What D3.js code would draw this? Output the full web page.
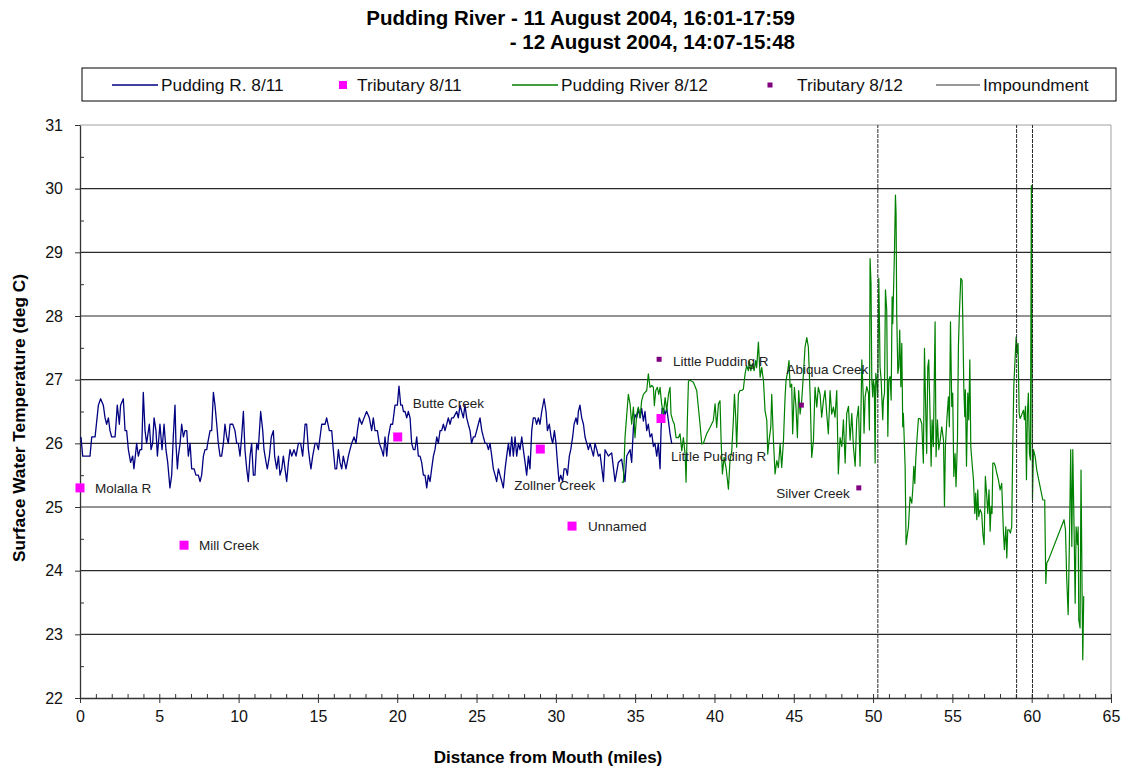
<!DOCTYPE html>
<html>
<head>
<meta charset="utf-8">
<script src="https://cdn.jsdelivr.net/npm/d3@7"></script>
<style>
  html, body { margin: 0; padding: 0; background: #fff; }
  svg { display: block; font-family: "Liberation Sans", Arial, sans-serif; }
</style>
</head>
<body>
<svg id="chart" width="1127" height="769"></svg>
<script>
// ---------------- DATA ----------------
const titleLines = ["Pudding River - 11 August 2004, 16:01-17:59", "- 12 August 2004, 14:07-15:48"];
const xTicks = [0, 5, 10, 15, 20, 25, 30, 35, 40, 45, 50, 55, 60, 65];
const yTicks = [22, 23, 24, 25, 26, 27, 28, 29, 30, 31];
const legendLabels = ["Pudding R. 8/11", "Tributary 8/11", "Pudding River 8/12", "Tributary 8/12", "Impoundment"];

// Pudding R. 8/11 : [mile, temp]
const puddingR0811 = [
[0.06,26.1],[0.17,25.8],[0.63,25.8],[0.74,26.1],[0.95,26.1],[1.16,26.6],[1.30,26.7],[1.47,26.6],[1.58,26.4],[1.68,26.3],[1.79,26.4],[1.89,26.2],[2.00,26.1],[2.21,26.1],[2.27,26.3],[2.35,26.6],[2.48,26.3],[2.56,26.6],[2.73,26.7],[2.84,26.2],[2.94,26.2],[3.05,25.9],[3.19,25.7],[3.32,25.8],[3.40,25.6],[3.53,25.9],[3.57,26.0],[3.68,25.8],[3.78,25.9],[3.89,25.9],[3.99,26.8],[4.10,26.2],[4.20,26.0],[4.37,26.3],[4.48,25.9],[4.58,26.0],[4.67,26.4],[4.79,26.2],[4.88,25.8],[5.04,26.3],[5.17,25.9],[5.30,26.3],[5.42,25.9],[5.53,25.7],[5.67,25.3],[5.78,25.5],[5.88,26.1],[5.99,26.6],[6.05,26.0],[6.14,25.6],[6.20,25.8],[6.31,26.0],[6.41,26.3],[6.52,26.1],[6.62,26.2],[6.73,26.2],[6.83,25.8],[6.94,26.0],[7.04,25.6],[7.19,25.6],[7.31,25.5],[7.46,25.5],[7.57,25.4],[7.67,25.5],[7.78,25.8],[7.88,25.9],[7.99,25.9],[8.05,26.0],[8.20,26.2],[8.30,26.2],[8.41,26.8],[8.51,26.6],[8.62,26.3],[8.72,26.0],[8.83,25.8],[8.93,25.8],[9.04,26.0],[9.14,26.3],[9.25,26.1],[9.35,26.0],[9.46,26.3],[9.63,26.3],[9.77,26.2],[9.88,26.0],[9.98,26.0],[10.09,25.8],[10.19,26.1],[10.30,26.5],[10.40,25.9],[10.51,25.6],[10.61,25.4],[10.72,25.8],[10.82,26.0],[10.93,25.5],[11.03,25.5],[11.14,26.0],[11.24,25.9],[11.39,26.5],[11.52,26.2],[11.60,25.9],[11.73,25.7],[11.81,25.6],[11.94,25.8],[12.06,26.1],[12.19,26.2],[12.27,25.8],[12.40,25.6],[12.51,25.8],[12.61,25.5],[12.72,25.6],[12.82,25.8],[13.03,25.4],[13.14,25.7],[13.24,25.9],[13.35,25.8],[13.49,25.9],[13.62,25.8],[13.77,26.0],[13.91,26.0],[14.04,25.8],[14.19,26.3],[14.29,26.3],[14.40,25.9],[14.50,25.7],[14.56,25.6],[14.67,25.8],[14.82,26.0],[14.92,26.0],[15.03,25.9],[15.24,26.3],[15.45,26.3],[15.55,26.4],[15.72,26.2],[15.87,26.2],[15.97,25.9],[16.08,25.6],[16.18,25.6],[16.29,25.9],[16.39,25.7],[16.50,25.6],[16.60,25.8],[16.77,25.6],[16.92,25.8],[17.02,25.9],[17.13,26.0],[17.28,26.1],[17.40,26.0],[17.49,26.2],[17.61,26.4],[17.76,26.3],[17.91,26.4],[18.07,26.5],[18.24,26.4],
[18.39,26.2],[18.49,26.4],[18.60,26.2],[18.75,26.2],[18.87,26.0],[19.02,25.9],[19.13,25.8],[19.23,26.1],[19.34,25.8],[19.44,26.1],[19.59,26.3],[19.71,26.3],[19.86,26.6],[20.01,26.6],[20.11,26.9],[20.22,26.6],[20.32,26.6],[20.39,26.5],[20.49,26.5],[20.60,26.4],[20.70,26.5],[20.81,26.4],[20.91,26.0],[21.02,25.9],[21.12,25.9],[21.23,26.1],[21.33,25.8],[21.44,25.8],[21.54,25.7],[21.65,25.5],[21.75,25.5],[21.86,25.3],[21.96,25.5],[22.07,25.4],[22.17,25.6],[22.28,25.8],[22.38,25.9],[22.49,26.1],[22.59,26.0],[22.70,26.2],[22.80,26.2],[22.91,26.3],[23.01,26.2],[23.12,26.3],[23.22,26.4],[23.33,26.3],[23.43,26.4],[23.54,26.4],[23.75,26.5],[23.85,26.4],[23.96,26.6],[24.06,26.5],[24.17,26.4],[24.27,26.6],[24.38,26.4],[24.48,26.3],[24.59,26.2],[24.69,26.0],[24.80,26.1],[24.90,26.1],[25.01,26.2],[25.11,26.3],[25.22,26.4],[25.33,26.2],[25.43,26.1],[25.54,26.0],[25.64,26.0],[25.75,25.9],[25.85,26.0],[25.96,25.8],[26.06,25.6],[26.17,25.5],[26.27,25.4],[26.38,25.6],[26.48,25.5],[26.59,25.4],[26.69,25.3],[26.80,25.6],[26.90,25.8],[27.01,26.0],[27.11,25.8],[27.22,26.1],[27.32,25.8],[27.43,26.1],[27.53,25.8],[27.64,26.0],[27.74,25.9],[27.85,26.1],[27.95,25.9],[28.06,25.7],[28.16,25.5],[28.27,25.8],[28.37,25.6],[28.48,26.2],[28.58,26.4],[28.69,26.4],[28.79,26.3],[28.90,26.4],[29.00,26.3],[29.11,26.5],[29.26,26.7],[29.38,26.5],[29.47,26.2],[29.59,26.3],[29.70,26.1],[29.80,26.0],[29.91,26.2],[30.01,26.0],[30.10,25.7],[30.20,25.4],[30.31,25.5],[30.43,25.4],[30.52,25.6],[30.64,25.6],[30.73,25.5],[30.85,25.8],[30.94,25.9],[31.06,26.1],[31.15,26.3],[31.27,26.4],[31.36,26.3],[31.42,26.5],[31.52,26.6],[31.63,26.4],[31.74,26.3],[31.84,26.1],[31.95,26.0],[32.05,25.9],[32.16,26.0],[32.26,25.9],[32.37,25.8],[32.47,26.0],[32.58,25.9],[32.68,25.8],
[32.79,25.83],[33.00,25.4],[33.10,25.9],[33.31,25.8],[33.52,25.85],[33.73,25.4],[33.94,25.7],[34.15,25.75],[34.36,25.4],[34.47,25.8],[34.68,25.9],[34.78,25.7],[34.89,26.25],[34.99,26.45],[35.10,26.4],[35.20,26.55],[35.31,26.4],[35.41,26.55],[35.52,26.35],[35.62,26.5],[35.73,26.2],[35.83,26.3],[35.94,26.1],[36.05,26.15],[36.15,25.95],[36.25,26.0],[36.36,25.8],[36.46,26.0],[36.57,25.6],[36.63,26.2],[36.70,26.55],[36.78,26.55],[36.89,26.45],[36.99,26.55],[37.10,26.35],[37.20,26.15],[37.31,25.99]
];

// Pudding River 8/12 : [mile, temp]
const puddingRiver0812 = [
[34.15,25.39],[34.26,25.39],[34.36,26.09],[34.57,26.77],[34.68,26.62],[34.78,26.30],[34.89,26.57],[34.99,26.09],[35.10,26.46],[35.20,26.57],[35.31,26.41],[35.41,26.67],[35.52,26.77],[35.73,26.83],[35.83,27.09],[35.94,26.88],[36.05,26.91],[36.15,26.88],[36.21,26.59],[36.30,26.83],[36.40,26.88],[36.49,26.77],[36.57,26.88],[36.67,26.62],[36.78,26.46],[36.89,26.72],[36.99,26.51],[37.10,26.77],[37.20,26.88],[37.26,26.46],[37.37,26.36],[37.47,26.30],[37.58,26.09],[37.73,26.09],[37.83,26.15],[37.94,25.88],[38.04,26.09],[38.15,25.83],[38.21,25.39],[38.29,26.36],[38.36,26.98],[38.46,26.99],[38.67,26.96],[38.88,26.83],[39.09,26.30],[39.20,25.99],[39.30,26.00],[39.51,26.15],[39.72,26.25],[39.93,26.36],[40.04,26.62],[40.14,26.25],[40.25,26.62],[40.35,26.67],[40.42,26.04],[40.50,25.52],[40.61,25.78],[40.73,25.62],[40.88,25.28],[40.98,25.73],[41.09,25.88],[41.19,26.36],[41.26,26.77],[41.34,26.41],[41.40,25.94],[41.51,26.77],[41.61,26.83],[41.72,26.83],[41.82,26.85],[41.93,27.09],[42.03,27.22],[42.14,27.14],[42.20,27.30],[42.29,27.14],[42.39,27.25],[42.50,27.14],[42.60,27.30],[42.66,27.19],[42.77,27.59],[42.88,27.04],[42.98,27.19],[43.09,26.98],[43.19,26.51],[43.30,26.36],[43.36,25.83],[43.44,26.04],[43.55,26.25],[43.61,26.77],[43.72,26.04],[43.82,25.52],[43.93,25.73],[44.03,25.62],[44.14,25.99],[44.24,25.62],[44.35,26.04],[44.45,26.72],[44.51,26.98],[44.62,27.14],[44.70,27.30],[44.77,26.88],[44.87,26.93],[44.93,26.15],[45.04,26.88],[45.14,26.57],[45.23,26.09],[45.31,26.83],[45.40,26.46],[45.50,26.67],[45.61,27.09],[45.71,27.51],[45.82,27.66],[45.92,27.51],[46.03,26.77],[46.13,25.78],[46.24,26.04],[46.34,26.88],[46.45,26.57],[46.55,26.88],[46.66,26.77],[46.76,26.41],[46.87,26.67],[46.97,26.83],[47.08,26.46],[47.18,26.15],[47.29,26.83],[47.39,26.46],[47.50,26.57],[47.60,26.41],[47.71,26.83],[47.81,25.52],[47.92,26.09],
[48.03,25.95],[48.13,26.37],[48.24,25.69],[48.34,26.47],[48.45,26.58],[48.55,26.05],[48.66,26.47],[48.76,25.95],[48.87,25.64],[48.97,26.37],[49.08,26.58],[49.18,25.64],[49.29,27.31],[49.39,26.68],[49.43,26.16],[49.50,26.73],[49.60,26.89],[49.71,26.79],[49.77,26.21],[49.81,28.90],[49.87,28.51],[49.92,26.99],[49.98,26.73],[50.02,26.99],[50.08,26.89],[50.13,25.69],[50.17,27.10],[50.23,26.99],[50.29,26.73],[50.36,28.59],[50.40,27.94],[50.44,27.20],[50.51,26.99],[50.55,26.73],[50.61,26.37],[50.65,26.68],[50.72,26.79],[50.78,28.41],[50.86,28.09],[50.93,26.11],[50.99,26.99],[51.07,27.05],[51.14,26.68],[51.20,28.30],[51.24,27.88],[51.28,28.30],[51.35,29.03],[51.41,29.90],[51.45,29.61],[51.49,28.04],[51.56,27.10],[51.62,27.20],[51.68,27.78],[51.75,26.89],[51.81,27.57],[51.87,26.26],[51.91,26.47],[52.02,25.64],[52.08,24.41],[52.23,24.69],[52.33,25.16],[52.44,25.06],[52.50,25.27],[52.57,25.64],[52.63,25.37],[52.69,25.74],[52.75,26.00],[52.86,26.39],[52.96,26.39],[53.07,26.31],[53.17,25.69],[53.24,27.49],[53.30,26.73],[53.38,25.84],[53.45,27.20],[53.51,27.31],[53.59,26.47],[53.66,25.64],[53.72,26.37],[53.80,25.95],[53.91,27.91],[53.97,25.79],[54.06,26.37],[54.14,25.90],[54.23,26.05],[54.33,26.26],[54.44,26.05],[54.50,25.01],[54.56,25.95],[54.65,26.37],[54.75,26.73],[54.81,26.26],[54.88,27.91],[54.96,26.58],[55.02,26.79],[55.09,25.48],[55.17,25.84],[55.23,25.32],[55.32,26.05],[55.38,27.52],[55.44,28.04],[55.53,28.59],[55.61,28.56],[55.65,28.04],[55.72,26.89],[55.78,26.42],[55.82,26.84],[55.89,25.64],[55.97,26.79],[56.03,26.37],[56.10,27.31],[56.16,25.95],[56.24,25.69],[56.33,25.43],[56.41,24.90],[56.47,25.22],[56.54,24.80],[56.60,25.27],[56.66,24.85],[56.75,24.96],[56.85,24.90],[56.92,24.59],[57.00,24.41],[57.08,25.48],[57.17,25.16],[57.23,24.90],[57.31,25.27],[57.38,24.62],[57.44,25.01],[57.50,24.90],[57.55,25.69],[57.63,25.69],[57.71,25.64],[57.80,25.53],[57.90,25.43],[58.01,25.27],[58.11,25.37],[58.22,24.59],[58.28,24.33],[58.37,24.69],[58.43,24.20],[58.49,24.64],[58.58,24.64],[58.66,24.59],[58.74,24.69],[58.81,26.00],[58.87,26.89],[58.95,27.31],[59.02,27.67],[59.08,27.41],[59.14,27.57],[59.21,26.47],[59.27,26.39],[59.33,26.42],[59.40,26.47],[59.48,26.52],[59.54,26.37],[59.61,26.58],[59.67,25.43],[59.73,26.47],[59.79,26.79],[59.86,25.84],[59.92,25.74],[59.98,30.05],[60.05,25.11],[60.11,25.90],[60.22,25.79],[60.32,25.58],[60.53,25.32],[60.70,25.11],[60.82,25.11],[60.89,23.80],[60.95,24.12],[61.06,24.17],[62.04,24.80],[62.13,24.64],[62.21,23.86],[62.30,23.31],[62.38,24.49],[62.46,25.90],[62.53,24.38],[62.59,25.90],[62.67,24.69],[62.74,23.49],[62.80,24.69],[62.88,24.41],[62.93,24.69],[62.97,23.23],[63.05,23.10],[63.11,25.58],[63.18,23.60],[63.22,22.60],[63.28,23.60]
];

// Tributaries
const trib0811Names = ["Molalla R", "Mill Creek", "Butte Creek", "Zollner Creek", "Unnamed", "Little Pudding R"];
const trib0811Miles = [0.0, 6.56, 20.03, 29.02, 31.02, 36.63];
const trib0811Temps = [25.3, 24.4, 26.1, 25.91, 24.7, 26.39];

const trib0812Names = ["Little Pudding R", "Abiqua Creek", "Silver Creek"];
const trib0812Miles = [36.51, 45.48, 49.10];
const trib0812Temps = [27.32, 26.6, 25.3];

const impoundmentMiles = [50.3, 59.05, 60.05];

// ---------------- LAYOUT / STYLE ----------------
const plot = { left: 80, right: 1111, top: 125, bottom: 698 };
const FONT = '"Liberation Sans", Arial, sans-serif';
const colors = { blue: "#000080", green: "#008000", magenta: "#ff00ff", purple: "#800080", imp: "#2a2a2a" };

// label offsets (pixels) for the tributary annotations
const label0811Offsets = [[15, 5, "start"], [15, 5, "start"], [15, -29, "start"], [-26, 41, "start"], [16, 5, "start"], [10, 42, "start"]];
const label0812Offsets = [[14, 7, "start"], [-15, -31, "start"], [-9, 10, "end"]];

const svg = d3.select("#chart");
const x = d3.scaleLinear().domain([0, 65]).range([plot.left, plot.right]);
const y = d3.scaleLinear().domain([22, 31]).range([plot.bottom, plot.top]);

// Title
svg.append("g").selectAll("text").data(titleLines).join("text")
  .attr("x", 795).attr("y", (d, i) => 25 + i * 24)
  .attr("text-anchor", "end")
  .attr("font-family", FONT).attr("font-weight", "bold").attr("font-size", 20.5)
  .attr("fill", "#000").text(d => d);

// Plot frame (top & right light)
svg.append("line").attr("x1", plot.left).attr("x2", plot.right).attr("y1", plot.top).attr("y2", plot.top)
  .attr("stroke", "#a0a0a0").attr("stroke-width", 1);
svg.append("line").attr("x1", plot.right).attr("x2", plot.right).attr("y1", plot.top).attr("y2", plot.bottom)
  .attr("stroke", "#a0a0a0").attr("stroke-width", 1);

// Horizontal grid lines
svg.append("g").selectAll("line").data(yTicks.filter(v => v > 22 && v < 31)).join("line")
  .attr("x1", plot.left).attr("x2", plot.right)
  .attr("y1", d => y(d)).attr("y2", d => y(d))
  .attr("stroke", "#2a2a2a").attr("stroke-width", 1.1);

// Y axis
const yMinor = d3.range(22.5, 31, 1);
const yAxisG = svg.append("g").attr("transform", `translate(${plot.left},0)`)
  .call(d3.axisLeft(y).tickValues(yTicks).tickSize(5).tickSizeOuter(0).tickPadding(12).tickFormat(d3.format("d")));
svg.append("g").attr("transform", `translate(${plot.left},0)`)
  .call(d3.axisRight(y).tickValues(yMinor).tickSize(4).tickSizeOuter(0).tickFormat(""))
  .call(g => g.select(".domain").remove());
yAxisG.selectAll("text").attr("font-family", FONT).attr("font-size", 16).attr("fill", "#111");

// X axis
const xMinor = d3.range(0, 66, 1);
svg.append("g").attr("transform", `translate(0,${plot.bottom})`)
  .call(d3.axisTop(x).tickValues(xMinor).tickSize(4).tickSizeOuter(0).tickFormat(""))
  .call(g => g.select(".domain").remove());
const xAxisG = svg.append("g").attr("transform", `translate(0,${plot.bottom})`)
  .call(d3.axisBottom(x).tickValues(xTicks).tickSize(5).tickSizeOuter(0).tickPadding(8).tickFormat(d3.format("d")));
xAxisG.selectAll("text").attr("font-family", FONT).attr("font-size", 16).attr("fill", "#111");

svg.selectAll(".domain").attr("stroke", "#333").attr("stroke-width", 1.3);
svg.selectAll(".tick line").attr("stroke", "#333").attr("stroke-width", 1);

// Axis titles
svg.append("text").attr("x", 548).attr("y", 763).attr("text-anchor", "middle")
  .attr("font-family", FONT).attr("font-weight", "bold").attr("font-size", 17).attr("fill", "#000")
  .text("Distance from Mouth (miles)");
svg.append("text").attr("transform", "translate(25,418) rotate(-90)").attr("text-anchor", "middle")
  .attr("font-family", FONT).attr("font-weight", "bold").attr("font-size", 17.3).attr("fill", "#000")
  .text("Surface Water Temperature (deg C)");

// Series lines
const line = d3.line().x(d => x(d[0])).y(d => y(d[1]));
svg.append("path").datum(puddingR0811).attr("d", line)
  .attr("fill", "none").attr("stroke", colors.blue).attr("stroke-width", 1.3).attr("stroke-linejoin", "round");

// Tributary 8/11 markers
const trib0811 = trib0811Names.map((n, i) => ({ name: n, mile: trib0811Miles[i], temp: trib0811Temps[i], off: label0811Offsets[i] }));
svg.append("g").selectAll("rect").data(trib0811).join("rect")
  .attr("x", d => x(d.mile) - 4.5).attr("y", d => y(d.temp) - 4.5)
  .attr("width", 9).attr("height", 9).attr("fill", colors.magenta);

svg.append("path").datum(puddingRiver0812).attr("d", line)
  .attr("fill", "none").attr("stroke", colors.green).attr("stroke-width", 1.2).attr("stroke-linejoin", "round");

const trib0812 = trib0812Names.map((n, i) => ({ name: n, mile: trib0812Miles[i], temp: trib0812Temps[i], off: label0812Offsets[i] }));
svg.append("g").selectAll("rect").data(trib0812).join("rect")
  .attr("x", d => x(d.mile) - 2.5).attr("y", d => y(d.temp) - 2.5)
  .attr("width", 5).attr("height", 5).attr("fill", colors.purple);

// Impoundment lines
svg.append("g").selectAll("line").data(impoundmentMiles).join("line")
  .attr("x1", d => x(d)).attr("x2", d => x(d))
  .attr("y1", y(22)).attr("y2", y(31))
  .attr("stroke", colors.imp).attr("stroke-width", 1).attr("stroke-dasharray", "4,1");

// Annotation labels
const allLabels = trib0811.concat(trib0812);
svg.append("g").selectAll("text").data(allLabels).join("text")
  .attr("x", d => x(d.mile) + d.off[0]).attr("y", d => y(d.temp) + d.off[1])
  .attr("text-anchor", d => d.off[2])
  .attr("font-family", FONT).attr("font-size", 13.5).attr("fill", "#222")
  .text(d => d.name);

// Legend
const lg = svg.append("g");
lg.append("rect").attr("x", 82).attr("y", 68).attr("width", 1034).attr("height", 33)
  .attr("fill", "#fff").attr("stroke", "#000").attr("stroke-width", 1);
const legendItems = [
  { label: legendLabels[0], type: "line", color: colors.blue, x0: 112, x1: 158, tx: 161 },
  { label: legendLabels[1], type: "sq", color: colors.magenta, size: 8, cx: 343, tx: 357 },
  { label: legendLabels[2], type: "line", color: colors.green, x0: 512, x1: 558, tx: 561 },
  { label: legendLabels[3], type: "sq", color: colors.purple, size: 5, cx: 770, tx: 797 },
  { label: legendLabels[4], type: "line", color: "#333", x0: 936, x1: 980, tx: 983 }
];
const ly = 85;
legendItems.forEach(it => {
  if (it.type === "line") {
    lg.append("line").attr("x1", it.x0).attr("x2", it.x1).attr("y1", ly).attr("y2", ly)
      .attr("stroke", it.color).attr("stroke-width", it.color === "#333" ? 1 : 1.3);
  } else {
    lg.append("rect").attr("x", it.cx - it.size / 2).attr("y", ly - it.size / 2)
      .attr("width", it.size).attr("height", it.size).attr("fill", it.color);
  }
  lg.append("text").attr("x", it.tx).attr("y", ly + 6)
    .attr("font-family", FONT).attr("font-size", 17.3).attr("fill", "#111").text(it.label);
});
</script>
</body>
</html>
